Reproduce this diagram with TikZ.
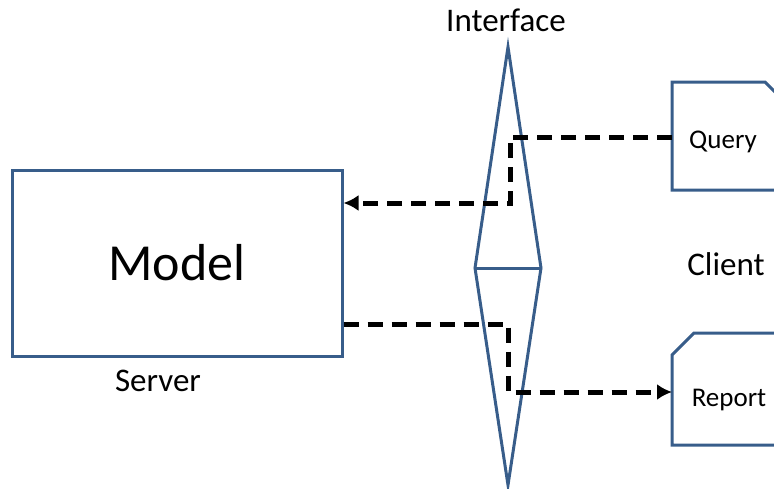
\documentclass[tikz,border=0pt]{standalone}
\usepackage{fontspec}
\setmainfont{Carlito}
\usetikzlibrary{arrows.meta}
\definecolor{outline}{RGB}{56,93,138}

\tikzset{
	box/.style={draw=outline, line width=3pt},
	flow/.style={line width=5pt, dash pattern=on 15pt off 9pt},
	big/.style={font=\fontsize{52}{52}\selectfont},
	mid/.style={font=\fontsize{33}{33}\selectfont},
	small/.style={font=\fontsize{27}{27}\selectfont}
}

\begin{document}
\begin{tikzpicture}[x=1pt, y=-1pt, >={Latex[length=15pt,width=16pt]}]
			\useasboundingbox (0,0) rectangle (774,488);
			
			% server
			\node[box, big, minimum width=330pt, minimum height=186pt, inner sep=0pt] (model) at (177,263) {Model};
			\node[mid] (server) at (158,381) {Server};
			
			% interface
			\coordinate (itop) at (508,47);
			\coordinate (ileft) at (475,268);
			\coordinate (iright) at (541,268);
			\coordinate (ibottom) at (508,485);
			\draw[box, line join=miter] (itop) -- (iright) -- (ibottom) -- (ileft) -- cycle;
			\draw[box] (ileft) -- (iright);
			\node[mid] (interface) at (506,20) {Interface};
			
			% client
			\draw[box] (800,190) -- (672,190) -- (672,82) -- (765,82) -- (800,117);
			\draw[box] (800,445) -- (672,445) -- (672,355) -- (694,333) -- (800,333);
			\node[small] (query) at (723,142) {Query};
			\node[small] (report) at (729,400) {Report};
			\node[mid] (client) at (726,264) {Client};
			\coordinate (qin) at (672,137);
			\coordinate (rin) at (672,392);
			
			% calls
			\draw[flow, ->] (qin) -| (510,203) -- (model.east |- 0,203);
			\draw[flow, ->] (model.east |- 0,324) -| (508,392) -- (rin);
		\end{tikzpicture}
\end{document}
